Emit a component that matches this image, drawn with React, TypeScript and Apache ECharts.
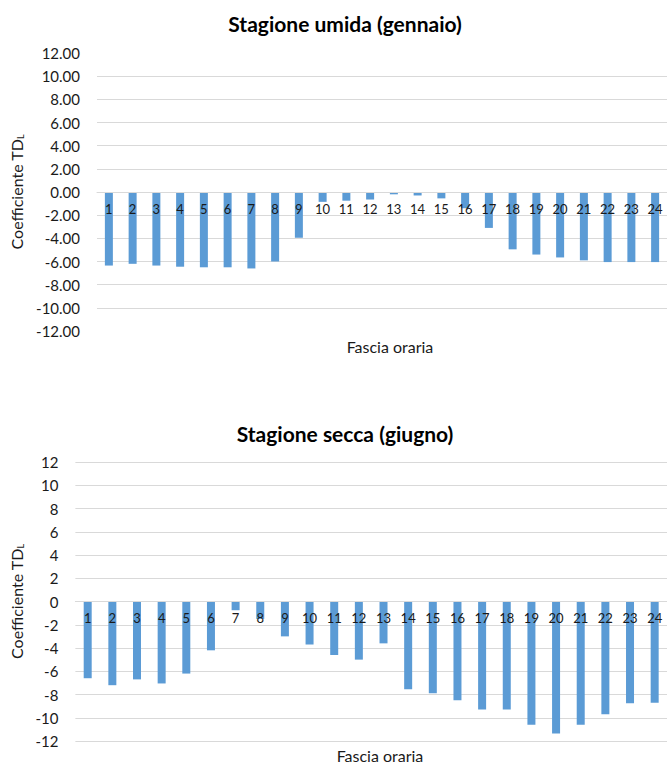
import React, { useEffect, useRef } from "react";
import * as echarts from "echarts";

const hours = ["1","2","3","4","5","6","7","8","9","10","11","12","13","14","15","16","17","18","19","20","21","22","23","24"];
const wetValues = [-6.35, -6.2, -6.35, -6.45, -6.5, -6.5, -6.6, -6.0, -3.95, -0.85, -0.75, -0.65, -0.2, -0.3, -0.55, -1.4, -3.1, -4.95, -5.4, -5.65, -5.9, -6.05, -6.05, -6.05];
const dryValues = [-6.6, -7.2, -6.7, -7.05, -6.2, -4.2, -0.75, -1.5, -3.0, -3.7, -4.6, -5.0, -3.6, -7.55, -7.9, -8.5, -9.3, -9.3, -10.6, -11.35, -10.6, -9.7, -8.75, -8.7];
const titles = ["Stagione umida (gennaio)", "Stagione secca (giugno)"];
const xName = "Fascia oraria";
const yName = "Coefficiente TD{sub|L}";

const FONT = "Lato, 'Liberation Sans', sans-serif";
const BAR = "#5B9BD5";
const GRID = "#D9D9D9";
const TXT = "#1a1a1a";

export default function App() {
  const ref = useRef<HTMLDivElement>(null);
  useEffect(() => {
    if (!ref.current) return;
    const chart = echarts.init(ref.current, null, { renderer: "svg" });
    const grids = [
      { left: 97, top: 53, width: 580, height: 278 },
      { left: 74, top: 462, width: 602, height: 279 },
    ];
    const yAxis = [0, 1].map((i) => ({
      type: "value",
      gridIndex: i,
      min: -12,
      max: 12,
      interval: 2,
      axisLine: { show: false },
      axisTick: { show: false },
      axisLabel: {
        color: TXT,
        fontSize: 15,
        fontFamily: FONT,
        margin: 17,
        formatter: (v: number) => (i === 0 ? v.toFixed(2) : String(v)),
      },
      splitLine: {
        lineStyle: { color: GRID, width: 1 },
        showMinLine: i === 1,
        showMaxLine: i === 1,
      },
      name: yName,
      nameLocation: "middle",
      nameGap: i === 0 ? 66 : 43,
      nameTextStyle: {
        color: TXT,
        fontSize: 16,
        fontFamily: FONT,
        rich: { sub: { fontSize: 9, fontFamily: FONT, color: TXT, verticalAlign: "bottom", padding: [8, 0, 0, 0] } },
      },
    }));
    // x axis moved up (via offset) so that it lies on the zero line, as in the reference
    const xAxis = [0, 1].map((i) => ({
      type: "category",
      gridIndex: i,
      data: hours,
      position: "bottom",
      offset: -grids[i].height / 2,
      z: 10,
      axisLine: { onZero: false, lineStyle: { color: GRID } },
      axisTick: { show: false },
      axisLabel: { color: TXT, fontSize: 13, fontFamily: FONT, margin: 10, interval: 0 },
      splitLine: { show: false },
    }));
    const titleStyle = { fontSize: 21, fontWeight: "bold", color: "#000", fontFamily: FONT };
    const nameStyle = { fontSize: 16, fontWeight: "normal", color: TXT, fontFamily: FONT };
    chart.setOption({
      animation: false,
      backgroundColor: "#fff",
      title: [
        { text: titles[0], left: 340, textAlign: "center", top: 8, textStyle: titleStyle },
        { text: titles[1], left: 340, textAlign: "center", top: 418, textStyle: titleStyle },
        { text: xName, left: 385, textAlign: "center", top: 333, textStyle: nameStyle },
        { text: xName, left: 375, textAlign: "center", top: 742, textStyle: nameStyle },
      ],
      grid: grids,
      xAxis,
      yAxis,
      series: [
        { type: "bar", xAxisIndex: 0, yAxisIndex: 0, data: wetValues, barWidth: 8, itemStyle: { color: BAR } },
        { type: "bar", xAxisIndex: 1, yAxisIndex: 1, data: dryValues, barWidth: 8, itemStyle: { color: BAR } },
      ],
    });
    return () => chart.dispose();
  }, []);
  return <div ref={ref} style={{ width: 667, height: 765, position: "absolute", left: 0, top: 0 }} />;
}
